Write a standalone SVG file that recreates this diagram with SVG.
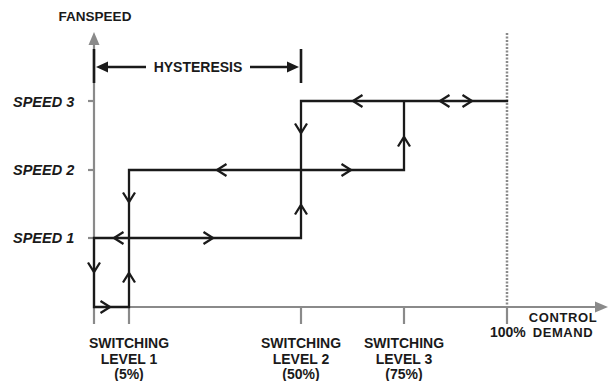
<svg xmlns="http://www.w3.org/2000/svg" xmlns:xlink="http://www.w3.org/1999/xlink" width="610" height="381" viewBox="0 0 610 381">
<style>
text{font-family:"Liberation Sans",Arial,sans-serif;font-weight:bold;fill:#1a1a1a;font-size:14px}
.it{font-style:italic;font-size:14.5px}
.mid{text-anchor:middle}
.cd{font-size:13px;letter-spacing:0.6px}
.axis{stroke:#8a8a8a;stroke-width:2.2;fill:none}
.axf{fill:#8a8a8a;stroke:none}
.path{stroke:#1a1a1a;stroke-width:2.3;fill:none;stroke-linejoin:miter;stroke-linecap:square}
.chev{stroke:#1a1a1a;stroke-width:2.3;fill:none}
.bar{stroke:#1a1a1a;stroke-width:2.6}
.hl{stroke:#1a1a1a;stroke-width:2.4}
</style>
<defs>
<path id="ch" d="M-9.5,-6 L0,0 L-9.5,6" class="chev"/>
<path id="tri" d="M0,0 L-12,-5.5 L-12,5.5 Z" fill="#1a1a1a"/>
</defs>
<g id="axes">
<line class="axis" x1="94" y1="44" x2="94" y2="324"/>
<path class="axf" d="M94,32 L88.5,45 L99.5,45 Z"/>
<line class="axis" x1="94" y1="307" x2="596" y2="307"/>
<path class="axf" d="M608,307 L595,301.5 L595,312.5 Z"/>
<line class="axis" x1="88" y1="101" x2="94" y2="101"/>
<line class="axis" x1="88" y1="170" x2="94" y2="170"/>
<line class="axis" x1="88" y1="238" x2="94" y2="238"/>
<line class="axis" x1="129" y1="307" x2="129" y2="324"/>
<line class="axis" x1="301" y1="307" x2="301" y2="324"/>
<line class="axis" x1="404" y1="307" x2="404" y2="324"/>
<line class="axis" x1="507" y1="307" x2="507" y2="324"/>
<line x1="507" y1="33" x2="507" y2="307" stroke="#8a8a8a" stroke-width="2.5" stroke-dasharray="2,1.5"/>
</g>
<g id="labels">
<text class="mid" x="95" y="21" style="font-size:13.5px">FANSPEED</text>
<text class="it" x="13" y="107">SPEED 3</text>
<text class="it" x="13" y="175">SPEED 2</text>
<text class="it" x="13" y="243">SPEED 1</text>
<text class="mid" x="129" y="348">SWITCHING</text>
<text class="mid" x="129" y="363.5">LEVEL 1</text>
<text class="mid" x="129" y="379">(5%)</text>
<text class="mid" x="301" y="348">SWITCHING</text>
<text class="mid" x="301" y="363.5">LEVEL 2</text>
<text class="mid" x="301" y="379">(50%)</text>
<text class="mid" x="404" y="348">SWITCHING</text>
<text class="mid" x="404" y="363.5">LEVEL 3</text>
<text class="mid" x="404" y="379">(75%)</text>
<text x="490" y="337">100%</text>
<text class="mid cd" x="563" y="322">CONTROL</text>
<text class="mid cd" x="563" y="337">DEMAND</text>
</g>
<g id="hysteresis">
<line class="bar" x1="94" y1="49" x2="94" y2="83"/>
<line class="bar" x1="301" y1="49" x2="301" y2="83"/>
<line class="hl" x1="105" y1="67" x2="146" y2="67"/>
<line class="hl" x1="250" y1="67" x2="290" y2="67"/>
<use xlink:href="#tri" transform="translate(96,67) rotate(180)"/>
<use xlink:href="#tri" transform="translate(299,67)"/>
<text class="mid" x="198" y="72">HYSTERESIS</text>
</g>
<g id="connectors">
<path class="path" d="M507,101 H301 V238 H94 V307 H129 V170 H404 V101"/>
<use xlink:href="#ch" transform="translate(353,101) rotate(180)"/>
<use xlink:href="#ch" transform="translate(440,101) rotate(180)"/>
<use xlink:href="#ch" transform="translate(472,101)"/>
<use xlink:href="#ch" transform="translate(301,133) rotate(90)"/>
<use xlink:href="#ch" transform="translate(404,137) rotate(-90)"/>
<use xlink:href="#ch" transform="translate(217,170) rotate(180)"/>
<use xlink:href="#ch" transform="translate(351,170)"/>
<use xlink:href="#ch" transform="translate(301,205) rotate(-90)"/>
<use xlink:href="#ch" transform="translate(114,238) rotate(180)"/>
<use xlink:href="#ch" transform="translate(213,238)"/>
<use xlink:href="#ch" transform="translate(129,202) rotate(90)"/>
<use xlink:href="#ch" transform="translate(94,272) rotate(90)"/>
<use xlink:href="#ch" transform="translate(129,273) rotate(-90)"/>
<use xlink:href="#ch" transform="translate(110,307)"/>
</g>
</svg>
